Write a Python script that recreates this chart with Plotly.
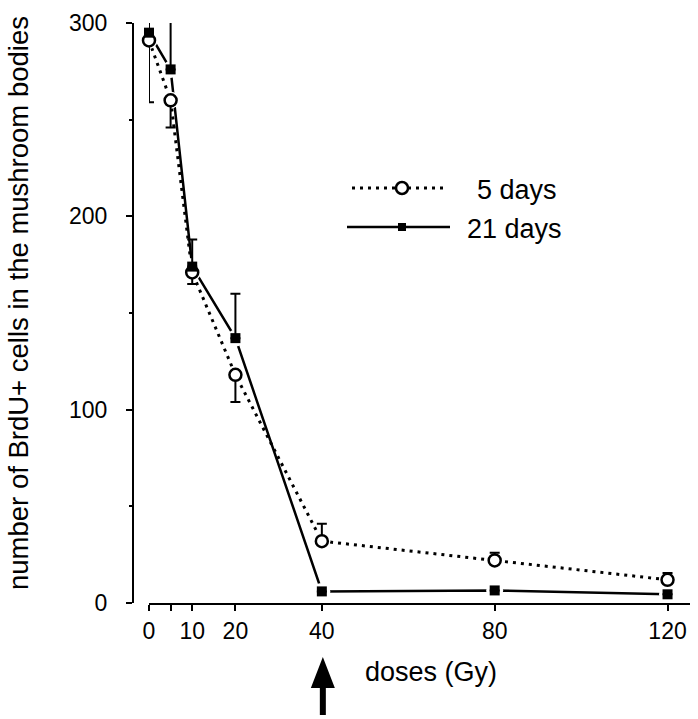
import plotly.graph_objects as go

# ---- data ----
doses = [0, 5, 10, 20, 40, 80, 120]
days5 = [291, 260, 171, 118, 32, 22, 12]
days5_err_plus = [0, 0, 0, 0, 9, 4, 3.5]
days5_err_minus = [32, 14, 6, 14, 0, 0, 0]
days21 = [295, 276, 174, 137, 6, 6.5, 4.5]
days21_err_plus = [9, 28, 14, 23, 0, 0, 0]
days21_err_minus = [0, 0, 0, 0, 0, 0, 0]
x_tickvals = [0, 5, 10, 20, 40, 80, 120]
x_ticktext = ["0", "", "10", "20", "40", "80", "120"]
y_tickvals = [0, 100, 200, 300]
series_names = ["5 days", "21 days"]
arrow_dose = 40

FONT = "Liberation Sans, Arial, sans-serif"
W, H = 698, 719
ML, MR, MT, MB = 133, 8, 23, 116
PW = W - ML - MR
PH = H - MT - MB
X_RANGE = [0, 125.2]
X_DOM0 = (149 - ML) / PW


def px_x(p):
    return (p - ML) / PW


def px_y(p):
    return (H - MB - p) / PH


def data_x_to_paper(v):
    return X_DOM0 + (v - X_RANGE[0]) / (X_RANGE[1] - X_RANGE[0]) * (1 - X_DOM0)


fig = go.Figure()

# lines
fig.add_trace(go.Scatter(x=doses, y=days5, mode="lines",
                         line=dict(color="black", width=3, dash="3px,5px"),
                         hoverinfo="skip", showlegend=False, cliponaxis=False))
fig.add_trace(go.Scatter(x=doses, y=days21, mode="lines",
                         line=dict(color="black", width=2.5),
                         hoverinfo="skip", showlegend=False, cliponaxis=False))
# white halos around markers
fig.add_trace(go.Scatter(x=doses + doses, y=days5 + days21, mode="markers",
                         marker=dict(symbol="circle", size=17, color="white"),
                         hoverinfo="skip", showlegend=False, cliponaxis=False))
# markers with error bars
fig.add_trace(go.Scatter(x=doses, y=days5, mode="markers", name=series_names[0],
                         marker=dict(symbol="circle", size=12, color="white",
                                     line=dict(color="black", width=2.5)),
                         error_y=dict(type="data", symmetric=False,
                                      array=days5_err_plus, arrayminus=days5_err_minus,
                                      color="black", thickness=2, width=5),
                         showlegend=False, cliponaxis=False))
fig.add_trace(go.Scatter(x=doses, y=days21, mode="markers", name=series_names[1],
                         marker=dict(symbol="square", size=10, color="black"),
                         error_y=dict(type="data", symmetric=False,
                                      array=days21_err_plus, arrayminus=days21_err_minus,
                                      color="black", thickness=2, width=5),
                         showlegend=False, cliponaxis=False))

fig.update_layout(
    width=W, height=H,
    margin=dict(l=ML, r=MR, t=MT, b=MB, pad=0),
    paper_bgcolor="white", plot_bgcolor="white",
    font=dict(family=FONT, color="black"),
    xaxis=dict(domain=[X_DOM0, 1], range=X_RANGE, anchor="y",
               showline=True, linecolor="black", linewidth=2,
               showgrid=False, zeroline=False,
               tickmode="array", tickvals=x_tickvals, ticktext=x_ticktext,
               ticks="outside", ticklen=6, tickwidth=2, tickcolor="black",
               tickfont=dict(size=23, family=FONT, color="black"),
               ticklabelstandoff=0),
    yaxis=dict(range=[0, 300], anchor="free", position=0,
               showline=True, linecolor="black", linewidth=2,
               showgrid=False, zeroline=False,
               tickmode="array", tickvals=y_tickvals,
               ticks="outside", ticklen=6, tickwidth=2, tickcolor="black",
               minor=dict(dtick=50, ticks="outside", ticklen=3, tickwidth=2,
                          tickcolor="black", showgrid=False),
               tickfont=dict(size=23, family=FONT, color="black"),
               ticklabelstandoff=14),
    showlegend=False,
)

shapes = []
# legend samples
shapes.append(dict(type="line", xref="paper", yref="paper",
                   x0=px_x(352), x1=px_x(448), y0=px_y(188), y1=px_y(188),
                   line=dict(color="black", width=3, dash="3px,5px")))
shapes.append(dict(type="circle", xref="paper", yref="paper",
                   xsizemode="pixel", ysizemode="pixel",
                   xanchor=px_x(402), yanchor=px_y(188),
                   x0=-6, x1=6, y0=-6, y1=6,
                   fillcolor="white", line=dict(color="black", width=2.5)))
shapes.append(dict(type="line", xref="paper", yref="paper",
                   x0=px_x(347), x1=px_x(450), y0=px_y(227), y1=px_y(227),
                   line=dict(color="black", width=2.5)))
shapes.append(dict(type="rect", xref="paper", yref="paper",
                   xsizemode="pixel", ysizemode="pixel",
                   xanchor=px_x(402), yanchor=px_y(227),
                   x0=-4, x1=4, y0=-4, y1=4,
                   fillcolor="black", line=dict(color="black", width=0)))
# arrow under 40 Gy
shapes.append(dict(type="path", xref="paper", yref="paper",
                   xsizemode="pixel", ysizemode="pixel",
                   xanchor=data_x_to_paper(arrow_dose), yanchor=0,
                   path="M 1,-54 L 13,-85 L 4,-85 L 4,-112 L -2,-112 L -2,-85 L -11,-85 Z",
                   fillcolor="black", line=dict(color="black", width=0)))
fig.update_layout(shapes=shapes)

annotations = [
    dict(text=series_names[0], xref="paper", yref="paper", x=px_x(475), y=px_y(190),
         xanchor="left", yanchor="middle", showarrow=False,
         font=dict(size=27, family=FONT, color="black")),
    dict(text=series_names[1], xref="paper", yref="paper", x=px_x(465), y=px_y(229),
         xanchor="left", yanchor="middle", showarrow=False,
         font=dict(size=27, family=FONT, color="black")),
    dict(text="number of BrdU+ cells in the mushroom bodies", xref="paper", yref="paper",
         x=px_x(18), y=px_y(303), xanchor="center", yanchor="middle",
         textangle=-90, showarrow=False,
         font=dict(size=27.5, family=FONT, color="black")),
    dict(text="doses (Gy)", xref="paper", yref="paper", x=px_x(431), y=px_y(672),
         xanchor="center", yanchor="middle", showarrow=False,
         font=dict(size=27, family=FONT, color="black")),
]
fig.update_layout(annotations=annotations)

fig.write_html("out.html", config={"displayModeBar": False},
               post_script="document.body.style.margin='0';")
